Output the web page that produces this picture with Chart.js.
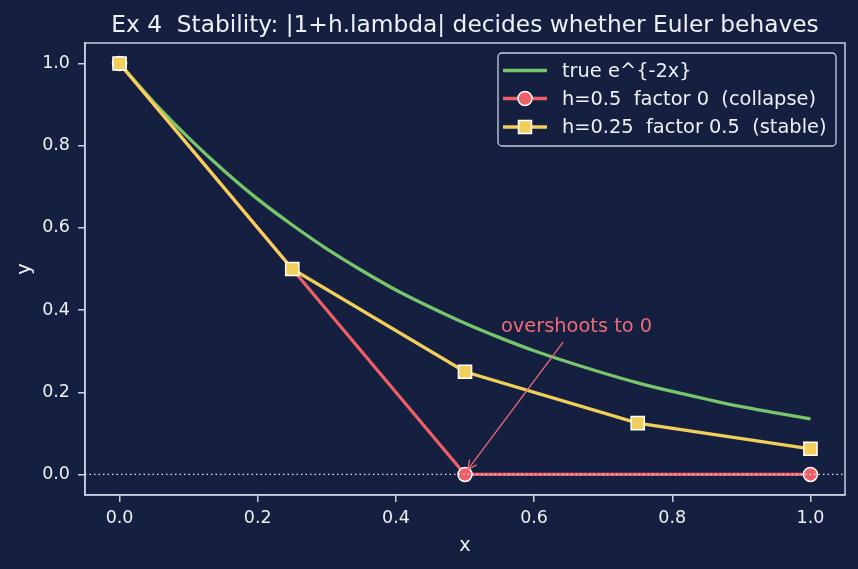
<!DOCTYPE html>
<html>
<head>
<meta charset="utf-8">
<script src="https://cdn.jsdelivr.net/npm/chart.js@4"></script>
<style>
  html,body{margin:0;padding:0;background:#152040;}
  #wrap{width:858px;height:569px;}
</style>
</head>
<body>
<div id="wrap"><canvas id="c" width="858" height="569"></canvas></div>
<script>
// ---- data ----
const titleText = "Ex 4  Stability: |1+h.lambda| decides whether Euler behaves";
const trueX = [0,0.05,0.1,0.15,0.2,0.25,0.3,0.35,0.4,0.45,0.5,0.55,0.6,0.65,0.7,0.75,0.8,0.85,0.9,0.95,1.0];
const trueY = [1.000,0.905,0.819,0.741,0.670,0.607,0.549,0.497,0.449,0.407,0.368,0.333,0.301,0.273,0.247,0.223,0.202,0.183,0.165,0.150,0.135];
const halfX = [0,0.5,1.0];
const halfY = [1.0,0.0,0.0];
const quarterX = [0,0.25,0.5,0.75,1.0];
const quarterY = [1.0,0.5,0.25,0.125,0.0625];
const xTicks = [0.0,0.2,0.4,0.6,0.8,1.0];
const yTicks = [0.0,0.2,0.4,0.6,0.8,1.0];
const labels = ["true e^{-2x}", "h=0.5  factor 0  (collapse)", "h=0.25  factor 0.5  (stable)"];
const annText = "overshoots to 0";

// ---- styles ----
const BG = '#152040';
const FG = '#eef0f6';
const AX = '#c9cfe3';
const GREEN = '#78c56b';
const RED = '#ef5f68';
const YELLOW = '#f2cf5b';
const ANN = '#ee6b78';
const FONT = "'DejaVu Sans', sans-serif";

const pts = (xs, ys) => xs.map((x, i) => ({x: x, y: ys[i]}));

const bgPlugin = {
  id: 'bg',
  beforeDraw(chart) {
    const ctx = chart.ctx;
    ctx.save();
    ctx.fillStyle = BG;
    ctx.fillRect(0, 0, chart.width, chart.height);
    ctx.restore();
  },
  beforeDatasetsDraw(chart) {
    const {ctx, chartArea: a} = chart;
    ctx.save();
    ctx.strokeStyle = AX;
    ctx.lineWidth = 1.5;
    ctx.strokeRect(a.left, a.top, a.right - a.left, a.bottom - a.top);
    ctx.restore();
  },
  afterDraw(chart) {
    const ctx = chart.ctx;
    const a = chart.chartArea;
    const xs = chart.scales.x, ys = chart.scales.y;
    ctx.save();
    // title
    ctx.fillStyle = FG;
    ctx.font = "23.3px " + FONT;
    ctx.textAlign = 'center';
    ctx.textBaseline = 'alphabetic';
    ctx.fillText(titleText, (a.left + a.right) / 2, 32);

    // annotation
    ctx.fillStyle = ANN;
    ctx.font = "19.4px " + FONT;
    ctx.textAlign = 'left';
    ctx.fillText(annText, xs.getPixelForValue(0.552), ys.getPixelForValue(0.347));
    const sx = xs.getPixelForValue(0.642), sy = ys.getPixelForValue(0.322);
    const ex = xs.getPixelForValue(0.504), ey = ys.getPixelForValue(0.012);
    ctx.strokeStyle = ANN;
    ctx.lineWidth = 1.3;
    ctx.beginPath();
    ctx.moveTo(sx, sy); ctx.lineTo(ex, ey); ctx.stroke();
    const ang = Math.atan2(ey - sy, ex - sx);
    const hl = 10, hw = 0.45;
    ctx.beginPath();
    ctx.moveTo(ex - hl * Math.cos(ang - hw), ey - hl * Math.sin(ang - hw));
    ctx.lineTo(ex, ey);
    ctx.lineTo(ex - hl * Math.cos(ang + hw), ey - hl * Math.sin(ang + hw));
    ctx.stroke();

    // legend
    const lx = 498, ly = 53, lw = 338, lh = 93;
    ctx.fillStyle = BG;
    ctx.strokeStyle = AX;
    ctx.lineWidth = 1.3;
    ctx.beginPath();
    ctx.roundRect(lx, ly, lw, lh, 4);
    ctx.fill(); ctx.stroke();
    const rows = [70.5, 98.5, 127];
    const cols = [GREEN, RED, YELLOW];
    ctx.font = "19.4px " + FONT;
    ctx.textBaseline = 'middle';
    rows.forEach((ry, i) => {
      ctx.strokeStyle = cols[i];
      ctx.lineWidth = 3.3;
      ctx.beginPath(); ctx.moveTo(503, ry); ctx.lineTo(547, ry); ctx.stroke();
      if (i === 1) {
        ctx.beginPath(); ctx.arc(525, ry, 7, 0, Math.PI * 2);
        ctx.fillStyle = RED; ctx.fill();
        ctx.strokeStyle = '#ffffff'; ctx.lineWidth = 1.5; ctx.stroke();
      } else if (i === 2) {
        ctx.fillStyle = YELLOW;
        ctx.fillRect(518.5, ry - 6.5, 13, 13);
        ctx.strokeStyle = '#ffffff'; ctx.lineWidth = 1.5;
        ctx.strokeRect(518.5, ry - 6.5, 13, 13);
      }
      ctx.fillStyle = FG;
      ctx.textAlign = 'left';
      ctx.fillText(labels[i], 562, ry + 1);
    });
    ctx.restore();
  }
};

new Chart(document.getElementById('c'), {
  type: 'scatter',
  data: {
    datasets: [
      {label: labels[0], data: pts(trueX, trueY), showLine: true, borderColor: GREEN, borderWidth: 3.3, pointRadius: 0,
        cubicInterpolationMode: 'monotone', order: 3},
      {label: labels[1], data: pts(halfX, halfY), showLine: true, borderColor: RED, borderWidth: 3.3,
        pointRadius: 7, pointBackgroundColor: RED, pointBorderColor: '#ffffff', pointBorderWidth: 1.5, order: 2},
      {label: labels[2], data: pts(quarterX, quarterY), showLine: true, borderColor: YELLOW, borderWidth: 3.3,
        pointStyle: 'rect', pointRadius: 9.3, pointBackgroundColor: YELLOW, pointBorderColor: '#ffffff', pointBorderWidth: 1.5, order: 1},
      {label: 'zero', data: [{x: -0.05, y: 0}, {x: 1.05, y: 0}], showLine: true, borderColor: '#dfe3ef', borderWidth: 1.2,
        borderDash: [1.5, 3], pointRadius: 0, order: 0}
    ]
  },
  options: {
    responsive: false,
    animation: false,
    devicePixelRatio: 1,
    layout: {padding: {left: 0, right: 13, top: 43, bottom: 0}},
    plugins: {legend: {display: false}, tooltip: {enabled: false}, title: {display: false}},
    scales: {
      x: {
        type: 'linear', min: -0.05, max: 1.05,
        afterFit(s) { s.height = 74; },
        afterBuildTicks(s) { s.ticks = xTicks.map(v => ({value: v})); },
        grid: {display: true, drawOnChartArea: false, drawTicks: true, tickLength: 7, color: AX, lineWidth: 1.5},
        border: {display: true, color: AX, width: 1.5},
        ticks: {color: FG, font: {family: FONT, size: 17.5}, padding: 5.5, maxRotation: 0, callback: v => v.toFixed(1)},
        title: {display: true, text: 'x', color: FG, font: {family: FONT, size: 19.4}, padding: {top: 2, bottom: 11}}
      },
      y: {
        type: 'linear', min: -0.05, max: 1.05,
        afterFit(s) { s.width = 85; },
        afterBuildTicks(s) { s.ticks = yTicks.map(v => ({value: v})); },
        grid: {display: true, drawOnChartArea: false, drawTicks: true, tickLength: 7, color: AX, lineWidth: 1.5},
        border: {display: true, color: AX, width: 1.5},
        ticks: {color: FG, font: {family: FONT, size: 17.5}, padding: 8, callback: v => v.toFixed(1)},
        title: {display: true, text: 'y', color: FG, font: {family: FONT, size: 19.4}, padding: {top: 13, bottom: 2}}
      }
    }
  },
  plugins: [bgPlugin]
});
</script>
</body>
</html>
